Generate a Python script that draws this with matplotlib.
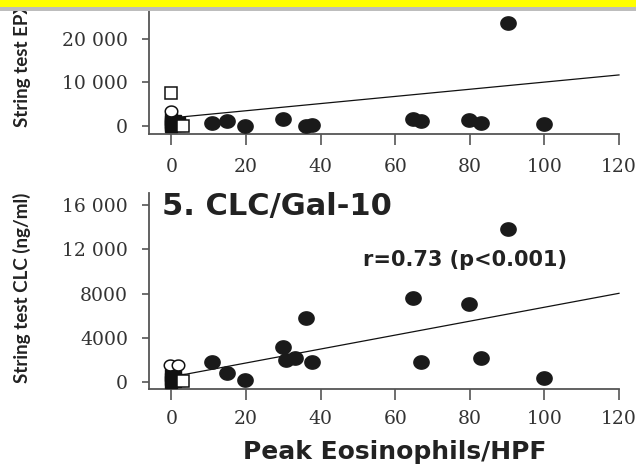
import matplotlib
matplotlib.use("Agg")
import matplotlib.pyplot as plt
import numpy as np
from matplotlib.path import Path
from matplotlib.patches import Rectangle

# ---------------- data ----------------
xticks = [0, 20, 40, 60, 80, 100, 120]

# Top panel: EPX
epx_circ_x = [10.8, 14.9, 19.8, 29.9, 36.1, 37.7, 64.9, 67.0, 79.9, 83.0, 90.2, 100.0]
epx_circ_y = [600, 1000, 0, 1400, 0, 200, 1450, 1050, 1350, 600, 23600, 300]
epx_fsq_x = [0, 0, 0, 0, 1, 2, 1, 2]
epx_fsq_y = [0, 400, 900, 1400, 200, 600, 1100, 100]
epx_osq_x = [0, 3]
epx_osq_y = [7400, 0]
epx_ocirc_x = [0]
epx_ocirc_y = [3400]
epx_fit = (1750, 82.3)  # intercept, slope
epx_yticks = [0, 10000, 20000]
epx_yticklabels = ["0", "10 000", "20 000"]

# Bottom panel: CLC
clc_circ_x = [10.8, 14.9, 19.8, 29.9, 30.6, 33.2, 36.1, 37.7, 64.9, 67.0, 79.9, 83.0, 90.2, 100.0]
clc_circ_y = [1770, 850, 150, 3140, 1980, 2200, 5790, 1770, 7620, 1830, 7010, 2130, 13870, 370]
clc_fsq_x = [0, 0, 1, 2, 0, 1]
clc_fsq_y = [0, 300, 100, 200, 600, 500]
clc_osq_x = [3]
clc_osq_y = [50]
clc_ocirc_x = [-0.3, 1.8]
clc_ocirc_y = [1550, 1550]
clc_fit = (460, 63.0)
clc_yticks = [0, 4000, 8000, 12000, 16000]
clc_yticklabels = ["0", "4000", "8000", "12 000", "16 000"]

# ---------------- layout helpers ----------------
W, H = 636, 466
fig = plt.figure(figsize=(W / 100, H / 100), dpi=100)


def fx(px):
    return px / W


def fy(py):
    return 1 - py / H


def add_axes(left, right, top, bottom):
    return fig.add_axes([fx(left), fy(bottom), fx(right) - fx(left), fy(top) - fy(bottom)])


# Slightly wide ellipse marker (reference is stretched horizontally)
t = np.linspace(0, 2 * np.pi, 60)
ell = Path(np.column_stack([np.cos(t), 0.87 * np.sin(t)]), closed=True)

spine_col = "#555555"
tick_font = dict(family="DejaVu Serif", size=13.5, color="#333333")
big_font = ["DejaVu Sans"]
ylab_font = ["Lato", "DejaVu Sans"]


def style(ax, xlim, ylim, yticks, ylabels, xpad):
    ax.set_xlim(*xlim)
    ax.set_ylim(*ylim)
    for s in ["top", "right"]:
        ax.spines[s].set_visible(False)
    for s in ["left", "bottom"]:
        ax.spines[s].set_color(spine_col)
        ax.spines[s].set_linewidth(1.3)
    ax.spines["bottom"].set_bounds(xlim[0], 120)
    ax.set_xticks(xticks)
    ax.set_xticklabels([str(v) for v in xticks], **tick_font)
    ax.set_yticks(yticks)
    ax.set_yticklabels(ylabels, **tick_font)
    ax.tick_params(axis="x", length=8, width=1.2, color=spine_col, pad=xpad)
    ax.tick_params(axis="y", length=5, width=1.2, color=spine_col, pad=10)
    ax.patch.set_visible(False)


def draw(ax, cx, cy, fsx, fsy, osx, osy, ocx, ocy, fit):
    xs = np.array([0, 120])
    ax.plot(xs, fit[0] + fit[1] * xs, color="#111111", lw=0.9, zorder=2)
    ax.plot(fsx, fsy, ls="none", marker="s", ms=8, mfc="#111111", mec="#111111", zorder=3)
    ax.plot(osx, osy, ls="none", marker="s", ms=8, mfc="white", mec="#111111", mew=1.1, zorder=4)
    ax.plot(ocx, ocy, ls="none", marker=ell, ms=9, mfc="white", mec="#111111", mew=1.1, zorder=4)
    ax.plot(cx, cy, ls="none", marker=ell, ms=11, mfc="#1a1a1a", mec="#1a1a1a", zorder=5)
    for ln in ax.lines:
        ln.set_clip_on(False)


# Top panel (EPX)
ax1 = add_axes(149, 619, 0, 134)
style(ax1, (-6.0, 120), (-1950, 28850), epx_yticks, epx_yticklabels, xpad=9)
draw(ax1, epx_circ_x, epx_circ_y, epx_fsq_x, epx_fsq_y, epx_osq_x, epx_osq_y,
     epx_ocirc_x, epx_ocirc_y, epx_fit)

# Bottom panel (CLC)
ax2 = add_axes(149, 619, 193, 389)
style(ax2, (-6.0, 120), (-633, 17090), clc_yticks, clc_yticklabels, xpad=7)
draw(ax2, clc_circ_x, clc_circ_y, clc_fsq_x, clc_fsq_y, clc_osq_x, clc_osq_y,
     clc_ocirc_x, clc_ocirc_y, clc_fit)

# Texts
fig.text(fx(22), fy(127), "String test EPX (ng/ml)", rotation=90, ha="center", va="bottom",
         family=ylab_font, weight="bold", size=13.5, color="#222222")
fig.text(fx(22), fy(383), "String test CLC (ng/ml)", rotation=90, ha="center", va="bottom",
         family=ylab_font, weight="bold", size=13.5, color="#222222")
fig.text(fx(162), fy(206), "5. CLC/Gal-10", ha="left", va="center",
         family=big_font, weight="bold", size=22, color="#222222")
fig.text(fx(363), fy(260), "r=0.73 (p<0.001)", ha="left", va="center",
         family=big_font, weight="bold", size=15, color="#222222")
fig.text(fx(395), fy(452), "Peak Eosinophils/HPF", ha="center", va="center",
         family=big_font, weight="bold", size=18, color="#222222")

# Top bands (yellow + grey) covering the cropped top
fig.add_artist(Rectangle((0, fy(11)), 1, fy(6.7) - fy(11), transform=fig.transFigure,
                         facecolor="#bdbdbd", edgecolor="none", zorder=20))
fig.add_artist(Rectangle((0, fy(6.7)), 1, 1 - fy(6.7), transform=fig.transFigure,
                         facecolor="#ffff00", edgecolor="none", zorder=21))

fig.savefig("out.png", dpi=100)
